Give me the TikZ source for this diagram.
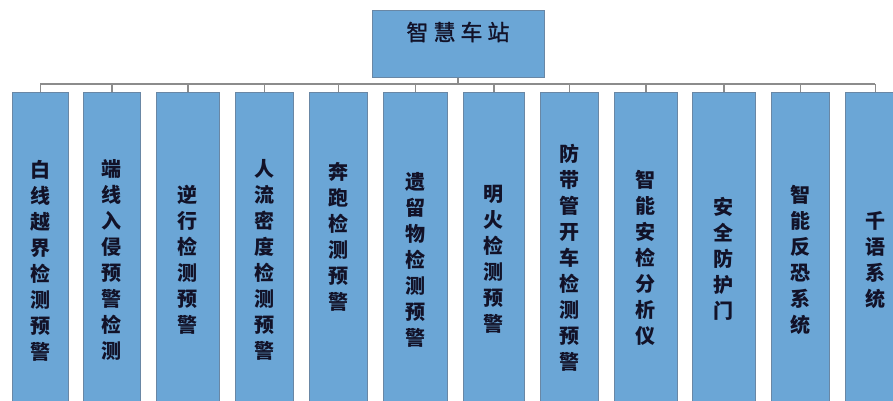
\documentclass[tikz,border=0pt]{standalone}
\usepackage{fontspec}
\newfontfamily\cjk{Noto Sans CJK SC}
\newfontfamily\cjktitle{Noto Sans CJK SC}[FakeBold=1.2]
\definecolor{boxfill}{RGB}{107,166,214}
\definecolor{boxline}{RGB}{105,135,165}
\definecolor{connc}{RGB}{140,140,140}
\definecolor{txt}{RGB}{18,18,40}
\begin{document}
\begin{tikzpicture}[x=1pt,y=-1pt,
  box/.style={draw=boxline, fill=boxfill, line width=1pt, inner sep=0pt},
  lbl/.style={font=\cjk\bfseries\fontsize{20}{26}\selectfont, text=txt, align=center, inner sep=0pt},
  conn/.style={draw=connc, line width=1.1pt}]
\clip (0,0) rectangle (893,400);
\fill[white] (0,0) rectangle (893,400);
\node[box, minimum width=172pt, minimum height=67pt] (top) at (458,43.5) {};
\node[font=\cjktitle\fontsize{22}{22}\selectfont, text=txt, inner sep=0pt] (title) at (458,32) {智\hspace{5pt}慧\hspace{5pt}车\hspace{5pt}站};
\foreach \i/\xa/\xb/\ty/\t in {
  1/12/68/261/{白\\线\\越\\界\\检\\测\\预\\警},
  2/83/140/260/{端\\线\\入\\侵\\预\\警\\检\\测},
  3/156/219/260/{逆\\行\\检\\测\\预\\警},
  4/235/293/260/{人\\流\\密\\度\\检\\测\\预\\警},
  5/309/367/237/{奔\\跑\\检\\测\\预\\警},
  6/383/447/260/{遗\\留\\物\\检\\测\\预\\警},
  7/463/524/259/{明\\火\\检\\测\\预\\警},
  8/540/598/258/{防\\带\\管\\开\\车\\检\\测\\预\\警},
  9/614/677/258/{智\\能\\安\\检\\分\\析\\仪},
  10/692/755/259/{安\\全\\防\\护\\门},
  11/771/829/260/{智\\能\\反\\恐\\系\\统},
  12/845/905/260/{千\\语\\系\\统}} {
  \node[box, anchor=north west, minimum width={\xb-\xa}, minimum height=330pt] (b\i) at (\xa,92) {};
  \node[lbl] (t\i) at ({(\xa+\xb)/2},\ty) {\t};
}
\coordinate (busL) at (40,84);
\coordinate (busR) at (875,84);
\draw[conn] (busL) -- (busR);
\draw[conn] (top.south) -- (top.south |- busL);
\foreach \i in {1,...,12} \draw[conn] (b\i.north) -- (b\i.north |- busL);
\end{tikzpicture}
\end{document}
